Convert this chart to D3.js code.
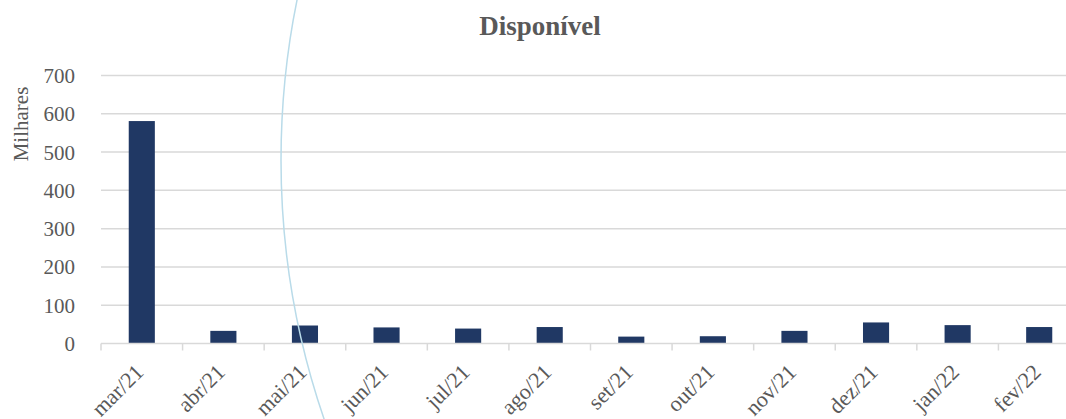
<!DOCTYPE html>
<html lang="pt">
<head>
<meta charset="utf-8">
<title>Disponível</title>
<script src="https://d3js.org/d3.v7.min.js"></script>
<style>
  body { margin: 0; background: #fff; }
  svg { display: block; font-family: "Liberation Serif", "DejaVu Serif", serif; }
</style>
</head>
<body>
<div id="chart"></div>
<script>
// data (milhares)
const months = ["mar/21", "abr/21", "mai/21", "jun/21", "jul/21", "ago/21",
                "set/21", "out/21", "nov/21", "dez/21", "jan/22", "fev/22"];
const disponivel = [581, 33, 47, 42, 39, 43, 18, 19, 33, 55, 48, 43];
const yTicks = [0, 100, 200, 300, 400, 500, 600, 700];

const W = 1066, H = 419;
const svg = d3.select("#chart").append("svg")
  .attr("width", W).attr("height", H);

const x = d3.scaleBand().domain(months).range([101, 1080]).paddingInner(0.68).paddingOuter(0.34);
const xTick = d3.scaleBand().domain(months).range([101, 1080]);
const y = d3.scaleLinear().domain([0, 700]).range([343.5, 75.5]);

// title
svg.append("text")
  .attr("x", 540).attr("y", 35)
  .attr("text-anchor", "middle")
  .style("font-size", "27px").style("font-weight", "bold")
  .style("fill", "#595959")
  .text("Disponível");

// gridlines
svg.append("g").selectAll("line")
  .data(yTicks.filter(d => d > 0))
  .join("line")
    .attr("x1", 101).attr("x2", W)
    .attr("y1", d => y(d)).attr("y2", d => y(d))
    .attr("stroke", "#d9d9d9").attr("stroke-width", 1.5);

// y labels
svg.append("g").selectAll("text")
  .data(yTicks)
  .join("text")
    .attr("x", 75).attr("y", d => y(d) + 7.5)
    .attr("text-anchor", "end")
    .style("font-size", "21px").style("fill", "#595959")
    .text(d => d);

svg.append("text")
  .attr("transform", "translate(28,124) rotate(-90)")
  .attr("text-anchor", "middle")
  .style("font-size", "21px").style("fill", "#595959")
  .text("Milhares");

// bars
svg.append("g").selectAll("rect")
  .data(disponivel)
  .join("rect")
    .attr("x", (d, i) => x(months[i]))
    .attr("width", x.bandwidth())
    .attr("y", d => y(d))
    .attr("height", d => y(0) - y(d))
    .attr("fill", "#203864");

// x axis line + ticks
svg.append("line")
  .attr("x1", 101).attr("x2", W)
  .attr("y1", y(0)).attr("y2", y(0))
  .attr("stroke", "#d9d9d9").attr("stroke-width", 1.5);

svg.append("g").selectAll("line")
  .data(months)
  .join("line")
    .attr("x1", d => xTick(d)).attr("x2", d => xTick(d))
    .attr("y1", y(0)).attr("y2", y(0) + 7)
    .attr("stroke", "#d9d9d9").attr("stroke-width", 1.5);

// x labels
svg.append("g").selectAll("text")
  .data(months)
  .join("text")
    .attr("transform", d => `translate(${xTick(d) + xTick.bandwidth() / 2 + 3},${y(0) + 30}) rotate(-45)`)
    .attr("text-anchor", "end")
    .style("font-size", "22px").style("fill", "#595959")
    .text(d => d);

// decorative arc from the source image
svg.append("circle")
  .attr("cx", 1081).attr("cy", 160).attr("r", 800)
  .attr("fill", "none")
  .attr("stroke", "#b9dbe9").attr("stroke-width", 1.5);
</script>
</body>
</html>
